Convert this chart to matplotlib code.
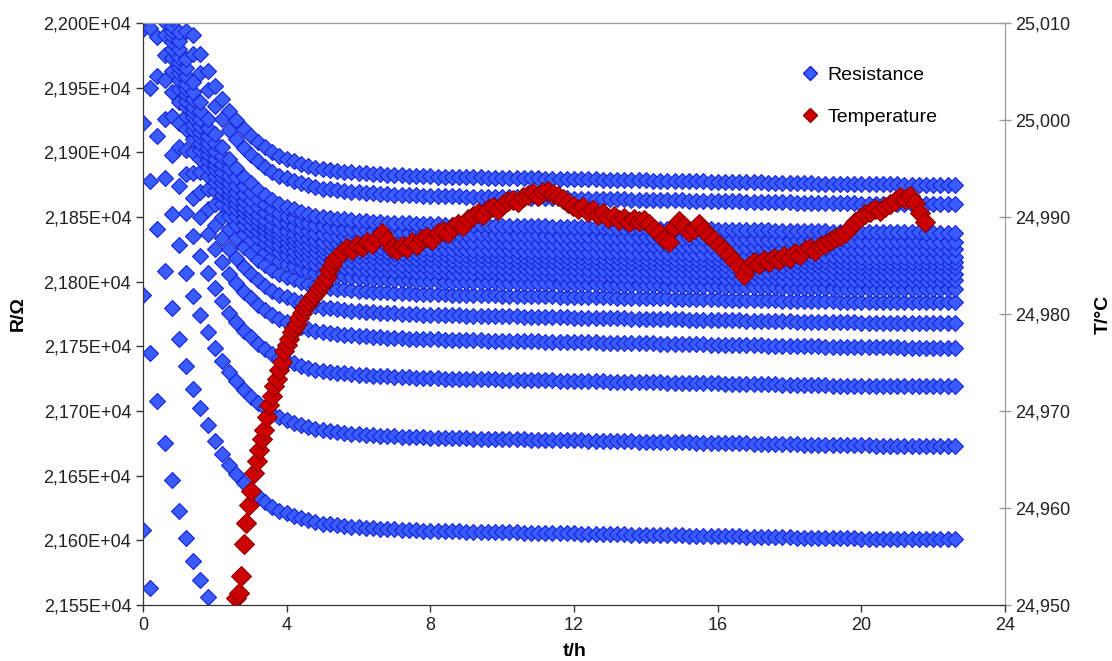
import numpy as np
import matplotlib.pyplot as plt
from matplotlib.ticker import FuncFormatter, MultipleLocator
from matplotlib.lines import Line2D

plt.rcParams['font.family'] = ['Liberation Sans', 'DejaVu Sans']

# --- resistance: one run per plateau, all sampled on the same clock ---
t_res = np.round(np.arange(0, 22.7, 0.2), 1)  # h
# level each run settles to (ohm), read at the right end of the chart
plateau_ohm = [21286, 21468, 21601, 21673, 21719, 21749, 21768, 21784, 21794,
               21801, 21806, 21811, 21815, 21819, 21825, 21831, 21838, 21860, 21875]
# settling offset above the plateau (ohm), same for every run, one per sample
settle_ohm = [322, 277, 240, 207, 179, 155, 134, 116, 101, 88, 76, 66, 57, 50,
              43, 38, 33, 29, 25, 22, 20, 18, 16, 14.5, 13, 12,
              11.3, 10.7, 10.1, 9.6, 9.1, 8.7, 8.3, 8.0, 7.7, 7.4,
              7.2, 7.0, 6.8, 6.6, 6.4, 6.3, 6.1, 6.0, 5.9, 5.8,
              5.7, 5.6, 5.5, 5.4, 5.3, 5.2, 5.1, 5.0, 4.9, 4.8,
              4.7, 4.6, 4.5, 4.4, 4.3, 4.2, 4.1, 4.0, 3.9, 3.8,
              3.7, 3.6, 3.5, 3.4, 3.3, 3.2, 3.1, 3.0, 2.9, 2.8,
              2.7, 2.6, 2.5, 2.4, 2.3, 2.2, 2.1, 2.0, 1.9, 1.8,
              1.7, 1.6, 1.5, 1.4, 1.3, 1.2, 1.1, 1.0, 0.9, 0.8,
              0.7, 0.6, 0.5, 0.5, 0.4, 0.4, 0.3, 0.3, 0.2, 0.2,
              0.1, 0.1, 0.1, 0.0, 0.0, 0.0, 0.0, 0.0]

# --- temperature ---
t_temp = np.concatenate([np.round(np.arange(2.60, 5.34, 0.07), 2),
                         np.round(np.arange(5.40, 21.79, 0.14), 2)])  # h
temp_c = [24.9507, 24.9512, 24.9530, 24.9563, 24.9585, 24.9603, 24.9618, 24.9636,
          24.9648, 24.9660, 24.9671, 24.9680, 24.9694, 24.9706, 24.9715, 24.9726,
          24.9733, 24.9742, 24.9751, 24.9762, 24.9768, 24.9774, 24.9781, 24.9786,
          24.9790, 24.9796, 24.9801, 24.9806, 24.9809, 24.9813, 24.9817, 24.9820,
          24.9823, 24.9827, 24.9830, 24.9834, 24.9838, 24.9845, 24.9851, 24.9856,
          # from 5.4 h
          24.9859, 24.9864, 24.9868, 24.9866, 24.9871, 24.9869, 24.9874, 24.9872,
          24.9878, 24.9883, 24.9876, 24.9868, 24.9866, 24.9870, 24.9868, 24.9874,
          24.9871, 24.9877, 24.9879, 24.9876, 24.9883, 24.9886, 24.9884, 24.9890,
          24.9893, 24.9891, 24.9898, 24.9901, 24.9904, 24.9902, 24.9908, 24.9910,
          24.9907, 24.9913, 24.9916, 24.9918, 24.9915, 24.9921, 24.9923, 24.9925,
          24.9922, 24.9926, 24.9927, 24.9924, 24.9922, 24.9919, 24.9914, 24.9911,
          24.9908, 24.9910, 24.9905, 24.9907, 24.9902, 24.9904, 24.9899, 24.9901,
          24.9897, 24.9899, 24.9895, 24.9898, 24.9896, 24.9897, 24.9893, 24.9888,
          24.9884, 24.9877, 24.9874, 24.9890, 24.9896, 24.9891, 24.9885, 24.9888,
          24.9893, 24.9887, 24.9880, 24.9876, 24.9871, 24.9866, 24.9861, 24.9855,
          24.9849, 24.9840, 24.9850, 24.9854, 24.9852, 24.9856, 24.9854, 24.9858,
          24.9856, 24.9860, 24.9858, 24.9863, 24.9861, 24.9866, 24.9868, 24.9865,
          24.9870, 24.9872, 24.9875, 24.9878, 24.9880, 24.9884, 24.9889, 24.9895,
          24.9899, 24.9903, 24.9905, 24.9908, 24.9906, 24.9910, 24.9913, 24.9917,
          24.9921, 24.9919, 24.9922, 24.9914, 24.9904, 24.9895]

blue_face, blue_edge = '#3a5cff', '#1424d6'
red_face, red_edge = '#cc0000', '#8c0000'

fig = plt.figure(figsize=(11.12, 6.61), dpi=100)
ax = fig.add_axes([0.1286, 0.0847, 0.7752, 0.8805])

settle = np.array(settle_ohm)
for p in plateau_ohm:
    ax.plot(t_res, p + settle, ls='none', marker='D', ms=8.2,
            mfc=blue_face, mec=blue_edge, mew=0.8)

ax.set_xlim(0, 24)
ax.set_ylim(21550, 22000)
ax.xaxis.set_major_locator(MultipleLocator(4))
ax.yaxis.set_major_locator(MultipleLocator(50))
ax.yaxis.set_major_formatter(FuncFormatter(
    lambda v, _: f"{v / 1e4:.3f}".replace('.', ',') + "E+04"))

ax2 = ax.twinx()
ax2.plot(t_temp, temp_c, ls='none', marker='D', ms=10.5,
         mfc=red_face, mec=red_edge, mew=0.8)
ax2.set_ylim(24.950, 25.010)
ax2.yaxis.set_major_locator(MultipleLocator(0.01))
ax2.yaxis.set_major_formatter(FuncFormatter(
    lambda v, _: f"{v:.3f}".replace('.', ',')))

for a in (ax, ax2):
    a.spines['top'].set_color('#9a9a9a')
    a.spines['right'].set_color('#9a9a9a')
    a.spines['left'].set_color('#333333')
    a.spines['bottom'].set_color('#333333')

ax.tick_params(axis='both', labelsize=13, colors='#333333', labelcolor='#222222',
               length=5, width=1)
ax2.tick_params(axis='y', labelsize=13, colors='#9a9a9a', labelcolor='#222222',
                direction='inout', length=8, width=1)

ax.set_ylabel('R/Ω', fontsize=14, fontweight='bold')
ax.yaxis.set_label_coords(-0.135, 0.5)
ax2.set_ylabel('T/°C', fontsize=14, fontweight='bold')
ax2.yaxis.set_label_coords(1.104, 0.5)
ax.set_xlabel('t/h', fontsize=14, fontweight='bold')
ax.xaxis.set_label_coords(0.501, -0.066)

handles = [Line2D([], [], ls='none', marker='D', ms=7, mfc=blue_face, mec=blue_edge),
           Line2D([], [], ls='none', marker='D', ms=7, mfc=red_face, mec=red_edge)]
ax2.legend(handles, ['Resistance', 'Temperature'], loc='upper left',
           bbox_to_anchor=(0.742, 0.955), frameon=False, fontsize=14,
           handlelength=1.0, handletextpad=0.4, labelspacing=1.25)

fig.savefig('out.png', dpi=100)
